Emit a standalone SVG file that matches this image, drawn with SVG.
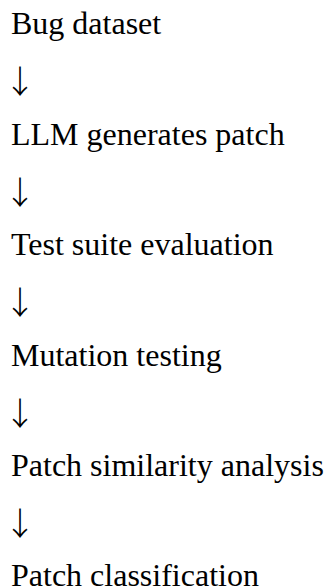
<svg xmlns="http://www.w3.org/2000/svg" width="326" height="588" viewBox="0 0 326 588">
<style>
.t{font-family:"Liberation Serif","Times New Roman",serif;font-size:32px;fill:#000}
.a{font-family:"Noto Sans CJK SC",sans-serif;font-size:32px;font-weight:300;fill:#000}
</style>
<rect width="326" height="588" fill="#fff"/>
<g id="n1"><text class="t" x="11" y="34">Bug dataset</text></g>
<g id="n2"><text class="t" x="11" y="144.6">LLM generates patch</text></g>
<g id="n3"><text class="t" x="11" y="255.2">Test suite evaluation</text></g>
<g id="n4"><text class="t" x="11" y="365.8">Mutation testing</text></g>
<g id="n5"><text class="t" x="11" y="476.4">Patch similarity analysis</text></g>
<g id="n6"><text class="t" x="11" y="586">Patch classification</text></g>
<g id="connectors">
<text class="a" x="4" y="93">↓</text>
<text class="a" x="4" y="203.6">↓</text>
<text class="a" x="4" y="314.2">↓</text>
<text class="a" x="4" y="424.8">↓</text>
<text class="a" x="4" y="535.4">↓</text>
</g>
</svg>
